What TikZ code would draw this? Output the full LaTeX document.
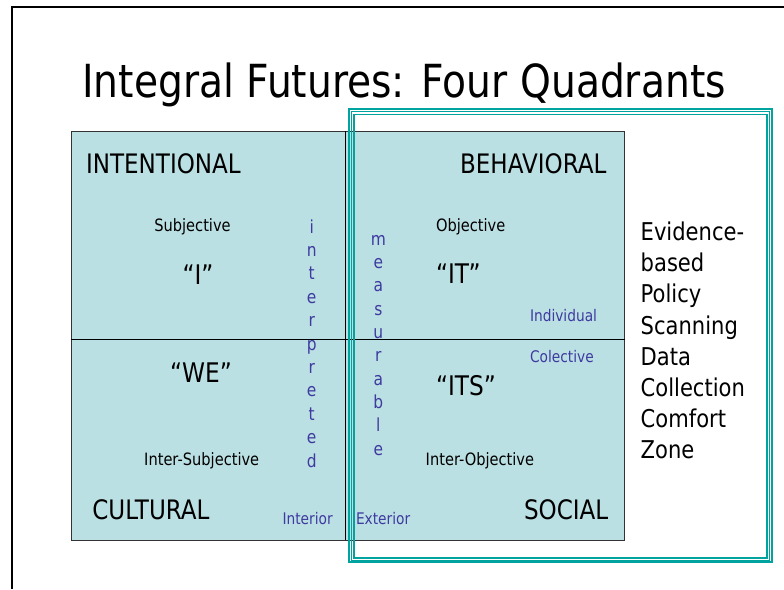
\documentclass[tikz,border=0pt]{standalone}
\usepackage{fontspec}
\newfontfamily\slidefont[FakeStretch=0.86]{DejaVu Sans}
\definecolor{quadfill}{RGB}{187,224,227}
\definecolor{frameteal}{RGB}{0,163,158}
\definecolor{axisblue}{RGB}{62,58,160}

\begin{document}
\begin{tikzpicture}[x=1pt, y=-1pt,
  every node/.style={inner sep=0pt, outer sep=0pt},
  title/.style={font=\slidefont\fontsize{45.6}{46}\selectfont, anchor=base},
  quadname/.style={font=\slidefont\fontsize{26.8}{27}\selectfont},
  pronoun/.style={font=\slidefont\fontsize{27}{27}\selectfont},
  small/.style={font=\slidefont\fontsize{17}{17}\selectfont},
  side/.style={font=\slidefont\fontsize{16}{16}\selectfont, text=axisblue},
  letter/.style={font=\slidefont\fontsize{18}{18}\selectfont, text=axisblue, anchor=base},
  zone/.style={font=\slidefont\fontsize{24.5}{25}\selectfont, anchor=base west}]
\useasboundingbox (0,0) rectangle (784,589);
% Rahmen der Folie
\draw[line width=2.2pt] (784,7) -- (12,7) -- (12,589);
\node[title] (head) at (404,97) {Integral Futures: Four Quadrants};
% Quadrantenfeld
\coordinate (TL) at (71,131);
\coordinate (BR) at (624.5,540);
\coordinate (MX) at (345.7,131);
\coordinate (MY) at (71,339);
\fill[quadfill] (TL) rectangle (BR);
\draw[black!80, line width=1pt] (TL) rectangle (BR);
\draw[line width=0.9pt] (MX) -- (MX |- BR);
\draw[line width=0.9pt] (MY) -- (MY -| BR);
% Doppelrahmen rechts
\draw[frameteal, line width=2pt]   (348.7,108.7) rectangle (772,562);
\draw[frameteal, line width=0.9pt] (351.4,111.4) rectangle (769.8,560);
\draw[frameteal, line width=1.6pt] (354.2,114.4) rectangle (767.2,558);
% Quadranten
\node[quadname, anchor=base west] (intent) at (86,173) {INTENTIONAL};
\node[quadname, anchor=base east] (behav)  at (606.5,173) {BEHAVIORAL};
\node[quadname, anchor=base west] (cult)   at (92.3,519) {CULTURAL};
\node[quadname, anchor=base east] (soc)    at (608.3,519) {SOCIAL};
\node[small, anchor=base]      (subj)  at (192.5,231.7) {Subjective};
\node[small, anchor=base west] (obj)   at (436,231.7) {Objective};
\node[small, anchor=base]      (isubj) at (201.7,465.7) {Inter-Subjective};
\node[small, anchor=base west] (iobj)  at (425.7,465.7) {Inter-Objective};
\node[pronoun, anchor=base]      (I)   at (198,284) {“I”};
\node[pronoun, anchor=base west] (IT)  at (436,283) {“IT”};
\node[pronoun, anchor=base]      (WE)  at (201,382.7) {“WE”};
\node[pronoun, anchor=base west] (ITS) at (436,395) {“ITS”};
\node[side, anchor=base west] (indiv) at (530,321.7) {Individual};
\node[side, anchor=base west] (coll)  at (530,362.7) {Colective};
\node[side, anchor=base east] (inner) at (332.7,524.3) {Interior};
\node[side, anchor=base west] (outer) at (356,524.3) {Exterior};
% senkrechte Woerter
\foreach \c [count=\i] in {i,n,t,e,r,p,r,e,t,e,d}
  \node[letter] (interp\i) at (311.7,{233+23.4*(\i-1)}) {\c};
\foreach \c [count=\i] in {m,e,a,s,u,r,a,b,l,e}
  \node[letter] (meas\i) at (378.3,{245+23.35*(\i-1)}) {\c};
% Liste rechts
\foreach \w [count=\i] in {Evidence-,based,Policy,Scanning,Data,Collection,Comfort,Zone}
  \node[zone] (list\i) at (640.7,{240.7+31.1*(\i-1)}) {\w};
\end{tikzpicture}
\end{document}
